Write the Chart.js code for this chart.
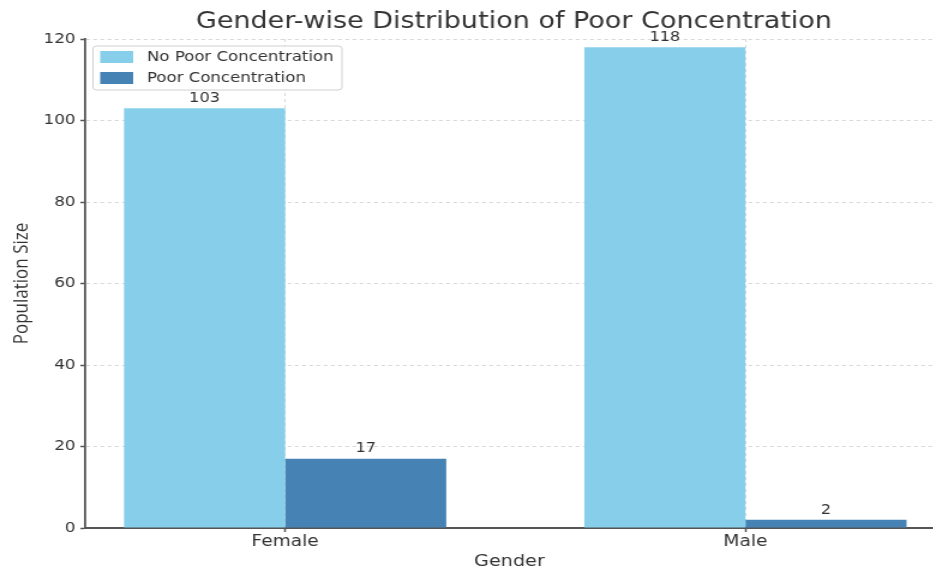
<!DOCTYPE html>
<html>
<head>
<meta charset="utf-8">
<title>Gender-wise Distribution of Poor Concentration</title>
<script src="https://cdn.jsdelivr.net/npm/chart.js@4/dist/chart.umd.min.js"></script>
<style>
  html, body { margin: 0; padding: 0; background: #fff; overflow: hidden; }
  #wrap { width: 933px; height: 571px; overflow: hidden; }
  /* the reference figure is stretched sideways, so the canvas is too */
  #stretch { width: 778px; height: 571px; transform: scaleX(1.2); transform-origin: 0 0; }
</style>
</head>
<body>
<div id="wrap"><div id="stretch"><canvas id="chart" width="778" height="571"></canvas></div></div>
<script>
// data
const genders = ['Female', 'Male']
const noPoor = [103, 118]
const poor = [17, 2]
const seriesNames = ['No Poor Concentration', 'Poor Concentration']
const yTicks = [0, 20, 40, 60, 80, 100, 120]

const LIGHT = '#87CEEB'
const DARK = '#4682B4'
const TEXT = '#333333'
const FONT = "'DejaVu Sans', sans-serif"

const toPoints = arr => arr.map((v, i) => ({ x: i, y: v }))

// title, legend box and value labels drawn on top of the plot
const overlay = {
  id: 'overlay',
  afterDatasetsDraw(chart) {
    const { ctx } = chart
    ctx.save()
    ctx.font = `13.5px ${FONT}`
    ctx.fillStyle = TEXT
    ctx.textAlign = 'center'
    ctx.textBaseline = 'bottom'
    chart.data.datasets.forEach((ds, di) => {
      chart.getDatasetMeta(di).data.forEach((bar, i) => {
        ctx.fillText(String(ds.data[i].y), bar.x, bar.y - 3)
      })
    })
    ctx.restore()
  },
  afterDraw(chart) {
    const { ctx, chartArea: a } = chart
    ctx.save()
    // title, centred over the full axes (which run past the right edge)
    ctx.font = `22.5px ${FONT}`
    ctx.fillStyle = TEXT
    ctx.textAlign = 'center'
    ctx.textBaseline = 'middle'
    ctx.fillText('Gender-wise Distribution of Poor Concentration', 428.3, 22)

    // legend
    const lx = a.left + 6.5, ly = a.top + 7, lw = 207.5, lh = 44
    ctx.beginPath()
    ctx.roundRect(lx, ly, lw, lh, 3)
    ctx.fillStyle = 'rgba(255,255,255,0.8)'
    ctx.fill()
    ctx.strokeStyle = '#d0d0d0'
    ctx.lineWidth = 1
    ctx.stroke()
    ctx.font = `13.8px ${FONT}`
    ctx.textAlign = 'left'
    chart.data.datasets.forEach((ds, i) => {
      const cy = ly + 11 + i * 21
      ctx.fillStyle = ds.backgroundColor
      ctx.fillRect(lx + 6, cy - 6, 27.5, 12)
      ctx.fillStyle = TEXT
      ctx.fillText(seriesNames[i], lx + 45, cy)
    })
    ctx.restore()
  }
}

new Chart(document.getElementById('chart'), {
  type: 'bar',
  data: {
    datasets: [
      { label: seriesNames[0], data: toPoints(noPoor), backgroundColor: LIGHT },
      { label: seriesNames[1], data: toPoints(poor), backgroundColor: DARK },
    ],
  },
  options: {
    responsive: false,
    animation: false,
    categoryPercentage: 0.7,
    barPercentage: 1.0,
    layout: { padding: { top: 39, right: 0, bottom: 0, left: 0 } },
    plugins: {
      legend: { display: false },
      title: { display: false },
      tooltip: { enabled: false },
    },
    scales: {
      x: {
        type: 'linear',
        offset: false,
        min: -0.4344,
        max: 1.4088,
        afterBuildTicks: s => { s.ticks = genders.map((g, i) => ({ value: i })) },
        afterFit: s => { s.height = 43 },
        ticks: {
          color: TEXT,
          font: { family: FONT, size: 15.5 },
          padding: 1,
          callback: v => genders[v],
        },
        grid: {
          offset: false,
          color: 'rgba(0,0,0,0.16)',
          tickColor: '#555',
          tickLength: 4,
          tickWidth: 1.5,
        },
        border: { color: '#555', width: 2, dash: [3, 3] },
        title: {
          display: true,
          text: 'Gender',
          color: TEXT,
          font: { family: FONT, size: 16 },
          padding: { top: 0, bottom: 0 },
        },
      },
      y: {
        min: 0,
        max: 120,
        afterBuildTicks: s => { s.ticks = yTicks.map(v => ({ value: v })) },
        afterFit: s => { s.width = 71 },
        ticks: {
          color: TEXT,
          font: { family: FONT, size: 14 },
          padding: 4,
        },
        grid: {
          color: 'rgba(0,0,0,0.16)',
          tickColor: '#555',
          tickLength: 4,
          tickWidth: 1.5,
        },
        border: { color: '#555', width: 1.8, dash: [3, 3] },
        title: {
          display: true,
          text: 'Population Size',
          color: TEXT,
          font: { family: "'Open Sans', sans-serif", size: 17 },
          padding: { top: 8, bottom: 0 },
        },
      },
    },
  },
  plugins: [overlay],
})
</script>
</body>
</html>
